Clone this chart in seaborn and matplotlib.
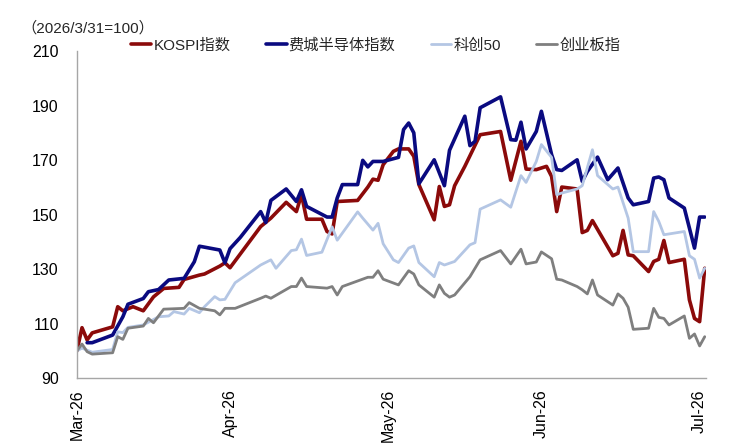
import pandas as pd
import matplotlib
matplotlib.use("Agg")
import matplotlib.pyplot as plt
import matplotlib.dates as mdates
import seaborn as sns

# ========== DATA (index, 2026/3/31 = 100) ==========
BASE_DATE = "2026-03-31"
SERIES = ["KOSPI指数", "费城半导体指数", "科创50", "创业板指"]
COLORS = ["#8B0A0A", "#0A0A80", "#B4C6E4", "#7F7F7F"]
WIDTHS = [2.6, 2.6, 2.0, 2.0]

kospi_days = [0, 1, 2, 3, 7, 8, 9, 11, 13, 15, 17, 20, 21, 24, 25, 28, 29, 30, 36, 38,
              41, 43, 44, 45, 48, 49, 50, 51, 55, 57, 58, 59, 60, 62, 63, 65, 66, 67, 70, 71,
              72, 73, 74, 76, 79, 83, 85, 87, 88, 90, 92, 93, 94, 95, 98, 99, 100, 101, 105, 106,
              107, 108, 109, 112, 113, 114, 115, 116, 119, 120, 121, 122, 123]
kospi_vals = [100, 108.5, 104, 106.6, 108.8, 116.2, 114.7, 116.2, 114.7, 119.8, 122.9, 123.3,
              126.2, 127.8, 128.2, 131.1, 132.3, 130.5, 145.6, 148.7, 154.5, 151.1, 157.3, 148.3,
              148.3, 143.8, 142.9, 154.8, 155.2, 160.1, 163, 162.6, 168.3, 173.2, 174.1, 174.1,
              171.4, 161, 148.1, 160.3, 153, 153.6, 160.6, 167.7, 179.3, 180.5, 162.6, 176.9,
              166.7, 166.5, 167.7, 164, 151.1, 160.1, 159.4, 143.4, 144.2, 147.8, 134.9, 135.8,
              144.2, 135.2, 134.9, 129.1, 132.8, 133.6, 140.5, 132.4, 133.6, 118.7, 111.9, 110.7,
              130.3]

sox_days = [2, 3, 7, 9, 10, 13, 14, 16, 18, 21, 23, 24, 28, 29, 30, 32, 36, 37, 38, 41,
            43, 44, 45, 49, 50, 51, 52, 55, 56, 57, 58, 60, 63, 64, 65, 66, 67, 70, 72, 73,
            76, 77, 78, 79, 83, 85, 86, 87, 88, 90, 91, 93, 94, 95, 98, 99, 100, 102, 104, 106,
            108, 109, 112, 113, 114, 115, 116, 119, 121, 122, 123]
sox_vals = [103, 103, 105.8, 112.5, 117.1, 119.2, 121.7, 122.5, 126, 126.6, 132.7, 138.4,
            137, 132.3, 137.5, 141.6, 151.1, 147.1, 155.2, 159.4, 154.8, 159.1, 153, 149.1,
            149.1, 156.1, 161, 161, 169.9, 167.5, 169.5, 169.5, 171, 181.2, 183.6, 180, 161.3,
            170.1, 160.6, 173.6, 186.1, 175.3, 176.9, 189.2, 193.2, 177.5, 177.3, 183.9, 174.1,
            180.5, 187.9, 172, 166.5, 166.2, 170.1, 162.2, 165.8, 171.1, 162.8, 167.1, 156.1,
            153.6, 154.8, 163.4, 163.8, 162.8, 156.1, 152.4, 137.7, 149.1, 149.1]

star50_days = [0, 1, 3, 7, 8, 9, 10, 13, 16, 18, 19, 21, 22, 24, 25, 27, 28, 29, 31, 36,
               38, 39, 42, 43, 44, 45, 48, 50, 51, 55, 56, 58, 59, 60, 62, 63, 65, 66, 67, 70,
               71, 72, 74, 77, 78, 79, 83, 85, 87, 88, 90, 91, 93, 94, 95, 98, 99, 101, 102, 105,
               106, 108, 109, 112, 113, 114, 115, 119, 120, 121, 122, 123]
star50_vals = [100, 101, 99.5, 100.5, 107, 106.7, 108.6, 109.5, 112.5, 112.8, 114.4, 113.5,
               115.6, 114, 116.2, 119.9, 118.7, 118.9, 125, 131.5, 133.4, 130.3, 136.8, 137.1,
               141, 135, 136.2, 145.5, 140.6, 151, 148.7, 144.3, 146.8, 139.3, 133.4, 132.4,
               137.7, 138.5, 132.4, 127.2, 132.4, 131.5, 132.8, 138.9, 139.7, 152, 155.4, 152.7,
               164.3, 161.8, 169.5, 175.7, 171, 157.3, 157.9, 159.4, 160.6, 173.8, 164.3, 159.4,
               160.1, 148.7, 136.4, 136.4, 151.1, 147.5, 142.6, 143.8, 134.9, 133.6, 126.7, 130.3]

chinext_days = [0, 1, 2, 3, 7, 8, 9, 10, 13, 14, 15, 17, 21, 22, 24, 27, 28, 29, 31, 36,
                37, 38, 42, 43, 44, 45, 49, 50, 51, 52, 57, 58, 59, 60, 63, 65, 66, 67, 70, 71,
                72, 73, 74, 77, 79, 83, 85, 87, 88, 90, 91, 93, 94, 95, 98, 99, 100, 101, 102, 105,
                106, 107, 108, 109, 112, 113, 114, 115, 116, 119, 120, 121, 122, 123]
chinext_vals = [100, 102.5, 99.7, 98.8, 99.3, 105.2, 104.2, 108.3, 109.1, 111.9, 110.3, 115.3,
                115.6, 117.7, 115.6, 114.7, 113.2, 115.6, 115.6, 119.3, 120.1, 119.3, 123.6, 123.6,
                126.7, 123.6, 123, 123.6, 120.5, 123.6, 127, 127, 129.4, 126.3, 124.2, 129.4,
                128.2, 124.2, 119.7, 124.2, 121.1, 119.7, 120.5, 127.2, 133.4, 136.8, 131.9, 137.3,
                131.9, 132.6, 136.3, 133.8, 126.3, 126, 123.6, 122.4, 120.9, 126, 120.5, 116.8,
                120.9, 119.3, 116, 107.9, 108.3, 115.6, 112.3, 111.9, 109.5, 112.8, 104.6, 106.2,
                101.8, 105.2]

TICK_DATES = ["2026-03-31", "2026-04-30", "2026-05-31", "2026-06-30", "2026-07-31"]
Y_TICKS = [90, 110, 130, 150, 170, 190, 210]

# ========== BUILD TABLE ==========
base = pd.Timestamp(BASE_DATE)
frames = []
for name, days, vals in zip(SERIES,
                            [kospi_days, sox_days, star50_days, chinext_days],
                            [kospi_vals, sox_vals, star50_vals, chinext_vals]):
    frames.append(pd.DataFrame({"date": base + pd.to_timedelta(days, unit="D"),
                                "value": vals, "series": name}))
df = pd.concat(frames, ignore_index=True)

# ========== PLOT ==========
sns.set_style("white")
plt.rcParams["font.family"] = ["Liberation Sans", "Noto Sans CJK SC", "DejaVu Sans"]

fig = plt.figure(figsize=(7.54, 4.48), dpi=100)
ax = fig.add_axes([0.102, 0.156, 0.834, 0.730])

for name, color, lw in zip(SERIES, COLORS, WIDTHS):
    sns.lineplot(data=df[df["series"] == name], x="date", y="value", color=color,
                 lw=lw, ax=ax, label=name, estimator=None, sort=True)

ax.set_xlim(base, base + pd.Timedelta(days=123.2))
ax.set_ylim(90, 210)
ax.set_yticks(Y_TICKS)
ax.set_xticks(pd.to_datetime(TICK_DATES))
ax.xaxis.set_major_formatter(mdates.DateFormatter("%b-%y"))
ax.set_xlabel("")
ax.set_ylabel("")

for side in ["top", "right"]:
    ax.spines[side].set_visible(False)
for side in ["left", "bottom"]:
    ax.spines[side].set_color("#A6A6A6")
    ax.spines[side].set_linewidth(1.0)
ax.tick_params(axis="both", direction="in", length=4, color="#A6A6A6",
               labelsize=11.5, labelcolor="black")
ax.tick_params(axis="x", rotation=90, pad=8)
ax.tick_params(axis="y", pad=13)

handles, labels = ax.get_legend_handles_labels()
ax.get_legend().remove()
fig.legend(handles, labels, loc="center", bbox_to_anchor=(0.498, 0.899), ncol=4,
           frameon=False, fontsize=11, handlelength=1.35, handletextpad=0.15,
           columnspacing=2.3)

fig.text(0.028, 0.937, "（2026/3/31=100）", fontsize=11, ha="left", va="center")

fig.savefig("out.png", dpi=100)
